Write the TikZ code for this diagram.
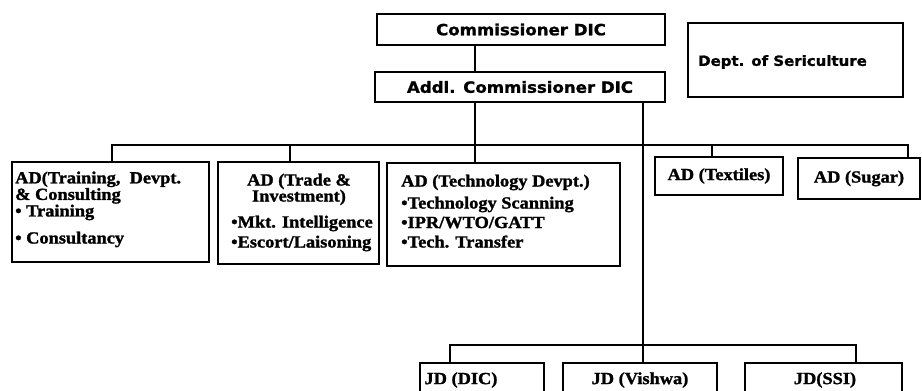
\documentclass[tikz,border=0pt]{standalone}
\usepackage{fontspec}
\setmainfont{Liberation Serif}
\newfontfamily\hsans{DejaVu Sans}[FakeStretch=1.07,BoldFeatures={FakeBold=1.2}]
\newfontfamily\hserif{Liberation Serif}[FakeStretch=1.08,BoldFeatures={FakeBold=1.4}]
\begin{document}
\begin{tikzpicture}[x=1pt,y=-1pt,
 box/.style={draw=black,line width=1.4pt,inner sep=0pt,outer sep=0pt,anchor=north west},
 conn/.style={draw=black,line width=1.2pt},
 sfont/.style={font=\hsans\bfseries\fontsize{15.5}{16}\selectfont},
 rfont/.style={font=\hserif\bfseries\fontsize{17}{18}\selectfont},
 rblock/.style={font=\hserif\bfseries\fontsize{17}{#1}\selectfont,inner sep=0pt,anchor=base west,align=left},
 rmid/.style={rfont,inner sep=0pt},
]
\useasboundingbox[fill=white] (0,0) rectangle (922,391);

% top boxes
\node[box,sfont,minimum width=288pt,minimum height=31pt] (comm) at (377,14) {Commissioner DIC};
\node[box,sfont,minimum width=290pt,minimum height=30pt] (addl) at (375,72) {Addl. Commissioner DIC};
\node[box,minimum width=215pt,minimum height=74pt] (seri) at (688,23) {};
\node[font=\hsans\bfseries\fontsize{14}{15}\selectfont,inner sep=0pt,anchor=west] (serit) at (698,62) {Dept. of Sericulture};

% AD boxes
\node[box,minimum width=197pt,minimum height=100pt] (b1) at (12,162) {};
\node[box,minimum width=161pt,minimum height=102pt] (b2) at (218,162) {};
\node[box,minimum width=233pt,minimum height=103pt] (b3) at (387,163) {};
\node[box,rfont,minimum width=128pt,minimum height=38pt] (tex) at (655,157) {AD (Textiles)};
\node[box,rfont,minimum width=122pt,minimum height=41pt] (sug) at (798,158) {AD (Sugar)};

% texts of AD boxes (anchored at the baseline of the last line)
\node[rblock=15.5] (t1) at (15,243.5) {AD(Training,~~Devpt.\\ \& Consulting\\ • Training\\[10.5pt] • Consultancy};

\node[rblock=16,align=center,anchor=base] (t2a) at (299,201.5) {AD (Trade \&\\ Investment)};
\node[rblock=20] (t2b) at (231,247.5) {•Mkt. Intelligence\\ •Escort/Laisoning};

\node[rblock=19.5] (t3) at (401,247.5) {AD (Technology Devpt.)\\[2.5pt] •Technology Scanning\\ •IPR/WTO/GATT\\ •Tech. Transfer};

% JD boxes
\node[box,minimum width=124pt,minimum height=45pt] (jd1) at (420,363) {};
\node[box,minimum width=154pt,minimum height=45pt] (jd2) at (563,363) {};
\node[box,minimum width=157pt,minimum height=45pt] (jd3) at (745,363) {};
\node[rmid] (j1t) at (461,380) {JD (DIC)};
\node[rmid] (j2t) at (640,380) {JD (Vishwa)};
\node[rmid] (j3t) at (825,380) {JD(SSI)};

% connectors
\coordinate (c0) at (475,0);
\draw[conn] (comm.south -| c0) -- (addl.north -| c0);

\coordinate (ha) at (112,145);
\coordinate (hb) at (290,145);
\coordinate (hc) at (475,145);
\coordinate (hd) at (712,145);
\coordinate (he) at (908,145);
\draw[conn] (addl.south -| hc) -- (hc);
\draw[conn] (ha |- b1.north) -- (ha) -- (he) -- (he |- sug.north);
\draw[conn] (hb) -- (hb |- b2.north);
\draw[conn] (hc) -- (hc |- b3.north);
\draw[conn] (hd) -- (hd |- tex.north);

\coordinate (ja) at (450,345);
\coordinate (jb) at (643,345);
\coordinate (jc) at (856,345);
\draw[conn] (addl.south -| jb) -- (jb |- jd2.north);
\draw[conn] (ja |- jd1.north) -- (ja) -- (jc) -- (jc |- jd3.north);
\end{tikzpicture}
\end{document}
